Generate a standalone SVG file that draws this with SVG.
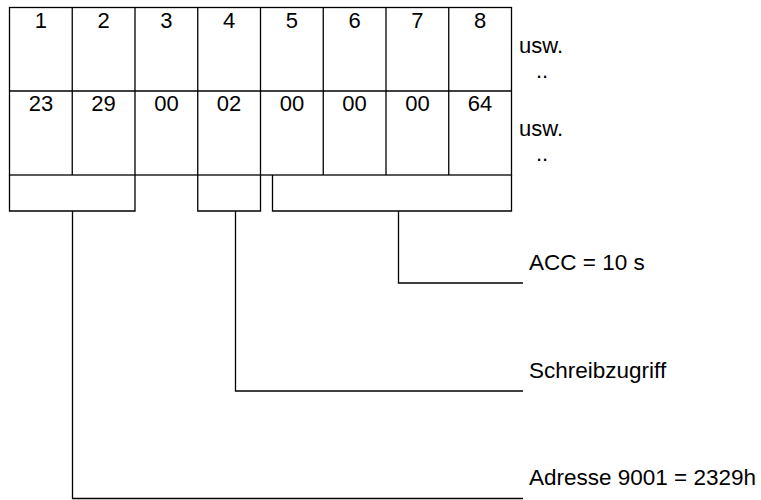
<svg xmlns="http://www.w3.org/2000/svg" width="761" height="500" viewBox="0 0 761 500">
<style>
.ln{fill:none;stroke:#000;stroke-width:1.3}
text{font-family:"Liberation Sans",Arial,sans-serif;font-size:22px;fill:#000}
.c{text-anchor:middle}
.lb{font-size:22.5px}
</style>
<rect width="761" height="500" fill="#fff"/>
<g id="grid">
<rect class="ln" x="9.5" y="7.5" width="502" height="167.5"/>
<line class="ln" x1="9.5" y1="91" x2="511.5" y2="91"/>
<line class="ln" x1="72.25" y1="7.5" x2="72.25" y2="175"/>
<line class="ln" x1="135" y1="7.5" x2="135" y2="175"/>
<line class="ln" x1="197.75" y1="7.5" x2="197.75" y2="175"/>
<line class="ln" x1="260.5" y1="7.5" x2="260.5" y2="175"/>
<line class="ln" x1="323.25" y1="7.5" x2="323.25" y2="175"/>
<line class="ln" x1="386" y1="7.5" x2="386" y2="175"/>
<line class="ln" x1="448.75" y1="7.5" x2="448.75" y2="175"/>
<text class="c" x="40.9" y="27.5">1</text>
<text class="c" x="103.6" y="27.5">2</text>
<text class="c" x="166.4" y="27.5">3</text>
<text class="c" x="229.1" y="27.5">4</text>
<text class="c" x="291.9" y="27.5">5</text>
<text class="c" x="354.6" y="27.5">6</text>
<text class="c" x="417.4" y="27.5">7</text>
<text class="c" x="480.1" y="27.5">8</text>
<text class="c" x="40.9" y="110.5">23</text>
<text class="c" x="103.6" y="110.5">29</text>
<text class="c" x="166.4" y="110.5">00</text>
<text class="c" x="229.1" y="110.5">02</text>
<text class="c" x="291.9" y="110.5">00</text>
<text class="c" x="354.6" y="110.5">00</text>
<text class="c" x="417.4" y="110.5">00</text>
<text class="c" x="480.1" y="110.5">64</text>
</g>
<g id="usw">
<text x="519" y="52.5">usw.</text>
<text x="536" y="78">..</text>
<text x="519" y="135.5">usw.</text>
<text x="536" y="161">..</text>
</g>
<g id="box-adresse"><path class="ln" d="M9.5,175 V211 H135 V175"/></g>
<g id="box-zugriff"><path class="ln" d="M197.75,175 V211 H260.5 V175"/></g>
<g id="box-acc"><path class="ln" d="M272.5,175 V211 H511.5 V175"/></g>
<g id="connectors">
<polyline class="ln" points="398.5,211 398.5,283 523,283"/>
<polyline class="ln" points="235.5,211 235.5,391 523,391"/>
<polyline class="ln" points="72.5,211 72.5,498.5 523,498.5"/>
</g>
<g id="labels">
<text class="lb" x="529" y="269.5">ACC = 10 s</text>
<text class="lb" x="529" y="377.5">Schreibzugriff</text>
<text class="lb" x="529" y="484.5">Adresse 9001 = 2329h</text>
</g>
</svg>
